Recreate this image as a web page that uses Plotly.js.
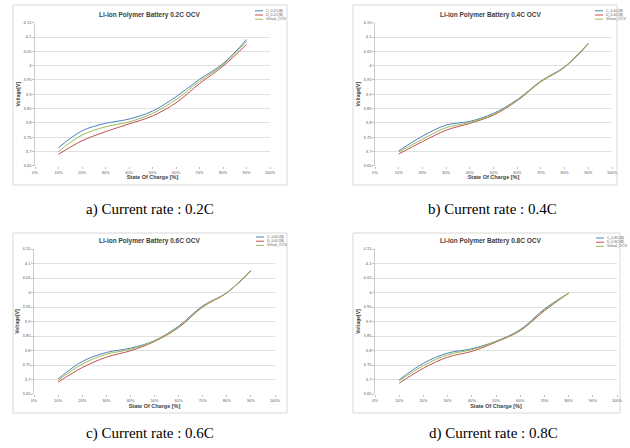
<!DOCTYPE html>
<html>
<head>
<meta charset="utf-8">
<script src="https://cdn.plot.ly/plotly-3.0.1.min.js"></script>
<style>html,body{margin:0;padding:0;background:#fff;}#chart{width:630px;height:448px;}</style>
</head>
<body>
<div id="chart"></div>
<script>
// ---- data ----
const soc = [10, 20, 30, 40, 50, 60, 70, 80, 90];
const soc08 = [10, 20, 30, 40, 50, 60, 70, 80];

const c02 = [3.713, 3.772, 3.798, 3.813, 3.841, 3.891, 3.952, 4.007, 4.091];
const d02 = [3.690, 3.737, 3.769, 3.796, 3.824, 3.870, 3.937, 3.998, 4.074];
const v02 = [3.700, 3.757, 3.786, 3.803, 3.833, 3.881, 3.945, 4.003, 4.085];

const c04 = [3.702, 3.753, 3.792, 3.805, 3.833, 3.881, 3.946, 3.996, 4.078];
const d04 = [3.691, 3.734, 3.774, 3.798, 3.827, 3.877, 3.944, 3.994, 4.076];
const v04 = [3.698, 3.742, 3.783, 3.801, 3.830, 3.879, 3.945, 3.995, 4.077];

const c06 = [3.702, 3.762, 3.793, 3.808, 3.834, 3.884, 3.954, 3.999, 4.075];
const d06 = [3.691, 3.741, 3.777, 3.799, 3.831, 3.879, 3.950, 3.999, 4.075];
const v06 = [3.697, 3.753, 3.787, 3.804, 3.833, 3.882, 3.952, 3.999, 4.075];

const c08 = [3.699, 3.756, 3.791, 3.806, 3.832, 3.872, 3.943, 3.998];
const d08 = [3.687, 3.739, 3.777, 3.797, 3.829, 3.868, 3.937, 3.998];
const v08 = [3.695, 3.748, 3.785, 3.803, 3.831, 3.870, 3.940, 3.998];

const rates = ["0.2C", "0.4C", "0.6C", "0.8C"];
const captions = ["a) Current rate : 0.2C", "b) Current rate : 0.4C", "c) Current rate : 0.6C", "d) Current rate : 0.8C"];
const xTicks = [0, 10, 20, 30, 40, 50, 60, 70, 80, 90, 100];
const yTicks = [3.65, 3.7, 3.75, 3.8, 3.85, 3.9, 3.95, 4, 4.05, 4.1, 4.15];

// ---- styling / layout ----
const colors = ["#4F81BD", "#C0504D", "#9BBB59"];
const W = 630, H = 448;
const px = x => x / W, py = y => 1 - y / H;

const panels = [
  {x: soc,   s: [c02, d02, v02], plot: [35, 270, 22.7, 165.7], box: [13, 287, 5, 185],   title: [149, 15],  cap: [150, 209], leg: [255, 10.8]},
  {x: soc,   s: [c04, d04, v04], plot: [375, 612, 22.7, 165.7], box: [353, 617, 5, 185], title: [490, 15],  cap: [492, 209], leg: [595, 10.8]},
  {x: soc,   s: [c06, d06, v06], plot: [34, 275, 249, 394],    box: [13, 287, 233, 413], title: [149, 241], cap: [150, 433], leg: [256, 237]},
  {x: soc08, s: [c08, d08, v08], plot: [375, 617, 249, 394],   box: [353, 620, 233, 413], title: [490, 241], cap: [493, 433], leg: [596, 238]}
];

const data = [];
const layout = {
  width: W, height: H,
  margin: {l: 0, r: 0, t: 0, b: 0},
  paper_bgcolor: "#ffffff", plot_bgcolor: "#ffffff",
  showlegend: false,
  font: {family: "Liberation Sans, Arial, sans-serif", color: "#404040"},
  shapes: [], annotations: []
};

panels.forEach((p, i) => {
  const n = i === 0 ? "" : String(i + 1);
  const names = ["C_" + rates[i] + "(B)", "D_" + rates[i] + "(B)", "Virtual_OCV"];
  p.s.forEach((ys, k) => {
    data.push({
      type: "scatter", mode: "lines", x: p.x, y: ys, name: names[k],
      xaxis: "x" + n, yaxis: "y" + n,
      line: {color: colors[k], width: 1, shape: "spline", smoothing: 1},
      hoverinfo: "x+y+name"
    });
  });
  layout["xaxis" + n] = {
    domain: [px(p.plot[0]), px(p.plot[1])], anchor: "y" + n,
    range: [0, 100], tickvals: xTicks, ticktext: xTicks.map(v => v + "%"),
    showgrid: false, zeroline: false, showline: false,
    ticks: "outside", ticklen: 2, tickcolor: "#bfbfbf",
    tickfont: {size: 4, color: "#595959"},
    title: {text: "State Of Charge [%]", font: {size: 5.5, weight: "bold", color: "#404040"}, standoff: 0},
    automargin: false, fixedrange: true
  };
  layout["yaxis" + n] = {
    domain: [py(p.plot[3]), py(p.plot[2])], anchor: "x" + n,
    range: [3.65, 4.15], tickvals: yTicks,
    showgrid: true, gridcolor: "#d9d9d9", gridwidth: 0.8, zeroline: false,
    showline: true, linecolor: "#bfbfbf", linewidth: 0.8,
    ticks: "outside", ticklen: 2, tickcolor: "#bfbfbf",
    tickfont: {size: 4, color: "#595959"},
    title: {text: "Voltage[V]", font: {size: 5, weight: "bold", color: "#404040"}, standoff: 2},
    automargin: false, fixedrange: true
  };
  // panel frame
  layout.shapes.push({type: "rect", xref: "paper", yref: "paper",
    x0: px(p.box[0]), x1: px(p.box[1]), y0: py(p.box[3]), y1: py(p.box[2]),
    line: {color: "#d9d9d9", width: 1}, fillcolor: "rgba(0,0,0,0)", layer: "below"});
  // chart title
  layout.annotations.push({xref: "paper", yref: "paper", x: px(p.title[0]), y: py(p.title[1]),
    xanchor: "center", yanchor: "middle", showarrow: false,
    text: "Li-ion Polymer Battery " + rates[i] + " OCV",
    font: {size: 6.5, weight: "bold", color: "#404040"}});
  // caption
  layout.annotations.push({xref: "paper", yref: "paper", x: px(p.cap[0]), y: py(p.cap[1]),
    xanchor: "center", yanchor: "middle", showarrow: false, text: captions[i],
    font: {size: 15, family: "Liberation Serif, Times New Roman, serif", color: "#000000"}});
  // compact legend (Excel-like)
  names.forEach((nm, k) => {
    const yy = p.leg[1] + k * 4.2;
    layout.shapes.push({type: "line", xref: "paper", yref: "paper",
      x0: px(p.leg[0]), x1: px(p.leg[0] + 8), y0: py(yy), y1: py(yy),
      line: {color: colors[k], width: 1}});
    layout.annotations.push({xref: "paper", yref: "paper", x: px(p.leg[0] + 9), y: py(yy),
      xanchor: "left", yanchor: "middle", showarrow: false, text: nm,
      font: {size: 3.6, color: "#595959"}});
  });
});

Plotly.newPlot("chart", data, layout, {displayModeBar: false, staticPlot: true});
</script>
</body>
</html>
